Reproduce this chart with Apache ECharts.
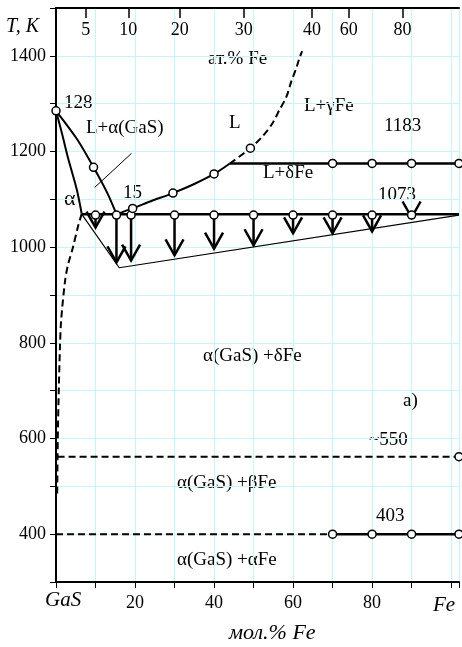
<!DOCTYPE html>
<html>
<head>
<meta charset="utf-8">
<script src="https://cdn.jsdelivr.net/npm/echarts@6/dist/echarts.min.js"></script>
<style>
html, body { margin: 0; padding: 0; background: #fff; }
#main { width: 462px; height: 647px; }
</style>
</head>
<body>
<div id="main"></div>
<script>
// T (K) vs mol.% Fe, GaS - Fe section
var alphaSolidus = [[0, 1285], [1.5, 1238], [3.0, 1188], [5.3, 1119], [6.5, 1070]];
var liquidusLeft = [[0, 1285], [5.3, 1226], [9.5, 1167], [13, 1113], [15.3, 1069]];
var liquidusRight = [[15.3, 1069], [19.4, 1081], [24, 1096], [29.6, 1113], [35, 1132], [40, 1153], [44, 1175]];
var liquidusDashed = [[44, 1175], [49.2, 1207], [52.3, 1232], [54.8, 1259], [56.5, 1286], [58.3, 1314], [59.5, 1345], [60.8, 1374], [61.6, 1395], [62.3, 1410]];
var alphaSolvus = [[6.5, 1070], [5.5, 1041], [4.3, 1000], [3.0, 962], [2.3, 930], [1.3, 847], [1.0, 790], [0.7, 700], [0.45, 600], [0.3, 484]];
var eutecticLine = [[6.5, 1069], [102, 1069]];
var line1183 = [[44, 1175], [102, 1175]];
var line550 = [[0.4, 562], [102, 562]];
var line403Dashed = [[0, 400], [70, 400]];
var line403 = [[70, 400], [102, 400]];
var lowerSolidus = [[6.5, 1069], [16, 957], [102, 1067]];
var leaderLine = [[19.1, 1196], [9.8, 1125]];
var points = [
  [0, 1285], [9.5, 1167],
  [10, 1067], [15.3, 1067], [19, 1067], [30, 1067], [40, 1067], [50, 1067], [60, 1067], [70, 1067], [80, 1067], [90, 1067],
  [19.4, 1081], [29.6, 1113], [40, 1153], [49.2, 1207],
  [70, 1175], [80, 1175], [90, 1175], [102, 1175],
  [102, 562],
  [70, 400], [80, 400], [90, 400], [102, 400]
];
// arrows: [mol.% Fe, start T, tip T]
var arrows = [
  [10, 1067, 1041], [15.3, 1067, 968], [19, 1067, 972], [30, 1067, 983], [40, 1067, 997],
  [50, 1067, 1004], [60, 1067, 1029], [70, 1067, 1029], [80, 1067, 1033], [90, 1067, 1062]
];
// upper scale: at.% Fe ticks and where they fall on the mol.% axis
var atTickLabels = ['5', '10', '20', '30', '40', '60', '80'];
var atTickPos = [7.5, 18.3, 31.3, 47.5, 64.8, 74.1, 87.7];

var serif = '"Liberation Serif", "Times New Roman", serif';
var chart = echarts.init(document.getElementById('main'));

function lineSeries(data, width, dashed) {
  return {
    type: 'line',
    data: data,
    symbol: 'none',
    smooth: data.length > 2 ? 0.3 : false,
    lineStyle: { color: '#000', width: width, type: dashed ? [7, 4] : 'solid' },
    silent: true,
    animation: false
  };
}

function txt(text, left, top, size, italic) {
  return {
    type: 'text', left: left, top: top,
    style: { text: text, font: (italic ? 'italic ' : '') + size + 'px ' + serif, fill: '#000' }
  };
}

var option = {
  backgroundColor: '#fff',
  animation: false,
  grid: { left: 56, right: 0, top: 8, bottom: 65 },
  xAxis: [{
    type: 'value', min: 0, max: 102, interval: 10,
    axisLine: { lineStyle: { color: '#000', width: 2 } },
    axisTick: { length: 6, lineStyle: { color: '#000', width: 1 } },
    axisLabel: {
      margin: 12, color: '#000', fontFamily: serif, fontSize: 18,
      formatter: function (v) { return (v > 0 && v < 100 && v % 20 === 0) ? v : ''; }
    },
    splitLine: { show: true, lineStyle: { color: '#c8f6f8', width: 1 } }
  }, {
    type: 'value', min: 0, max: 102, position: 'top',
    axisLine: { show: true, lineStyle: { color: '#000', width: 2 } },
    axisTick: { show: true, inside: true, length: 10, customValues: atTickPos, lineStyle: { color: '#000', width: 1.5 } },
    axisLabel: {
      show: true, inside: true, margin: 13, customValues: atTickPos, color: '#000', fontFamily: serif, fontSize: 18,
      formatter: function (v) {
        for (var i = 0; i < atTickPos.length; i++) {
          if (Math.abs(atTickPos[i] - v) < 0.01) return atTickLabels[i];
        }
        return '';
      }
    },
    splitLine: { show: false }
  }],
  yAxis: {
    type: 'value', min: 300, max: 1500, interval: 100,
    axisLine: { show: true, lineStyle: { color: '#000', width: 2 } },
    axisTick: { show: true, length: 6, lineStyle: { color: '#000', width: 1 } },
    axisLabel: {
      margin: 10, color: '#000', fontFamily: serif, fontSize: 18,
      formatter: function (v) { return (v >= 400 && v <= 1400 && v % 200 === 0) ? v : ''; }
    },
    splitLine: { show: true, lineStyle: { color: '#c8f6f8', width: 1 } }
  },
  graphic: [
    txt('T, K', 6, 17, 20, true),
    txt('ат.% Fe', 208, 50, 19),
    txt('128', 64, 94, 19),
    txt('L+α(GaS)', 86, 119, 19),
    txt('L', 229, 114, 19),
    txt('L+γFe', 304, 97, 19),
    txt('1183', 384, 117, 19),
    txt('L+δFe', 263, 164, 19),
    txt('15', 123, 184, 19),
    txt('α', 64, 188, 22),
    txt('1073', 378, 186, 19),
    txt('α(GaS) +δFe', 203, 347, 19),
    txt('a)', 403, 392, 19),
    txt('~550', 369, 431, 19),
    txt('α(GaS) +βFe', 177, 474, 19),
    txt('403', 376, 507, 19),
    txt('α(GaS) +αFe', 177, 551, 19),
    txt('GaS', 45, 590, 21, true),
    txt('Fe', 433, 595, 21, true),
    txt('мол.% Fe', 229, 622, 22, true)
  ],
  series: [
    lineSeries(alphaSolidus, 2, false),
    lineSeries(liquidusLeft, 2, false),
    lineSeries(liquidusRight, 2, false),
    lineSeries(liquidusDashed, 2, true),
    lineSeries(alphaSolvus, 2, true),
    lineSeries(eutecticLine, 2.5, false),
    lineSeries(line1183, 2.5, false),
    lineSeries(line550, 2, true),
    lineSeries(line403Dashed, 2, true),
    lineSeries(line403, 2.5, false),
    Object.assign(lineSeries(lowerSolidus, 1.2, false), { smooth: false }),
    lineSeries(leaderLine, 1, false),
    {
      type: 'custom',
      data: arrows,
      silent: true,
      z: 3,
      renderItem: function (params, api) {
        var p0 = api.coord([api.value(0), api.value(1)]);
        var p1 = api.coord([api.value(0), api.value(2)]);
        var st = { stroke: '#000', lineWidth: 2.5, fill: 'none' };
        return {
          type: 'group',
          children: [
            { type: 'line', shape: { x1: p0[0], y1: p0[1], x2: p1[0], y2: p1[1] }, style: st },
            { type: 'polyline', shape: { points: [[p1[0] - 9, p1[1] - 16], [p1[0], p1[1]], [p1[0] + 9, p1[1] - 16]] }, style: st }
          ]
        };
      }
    },
    {
      type: 'scatter',
      data: points,
      symbol: 'circle',
      symbolSize: 8,
      z: 5,
      silent: true,
      itemStyle: { color: '#fff', borderColor: '#000', borderWidth: 1.5, opacity: 1 }
    }
  ]
};
chart.setOption(option);
</script>
</body>
</html>
